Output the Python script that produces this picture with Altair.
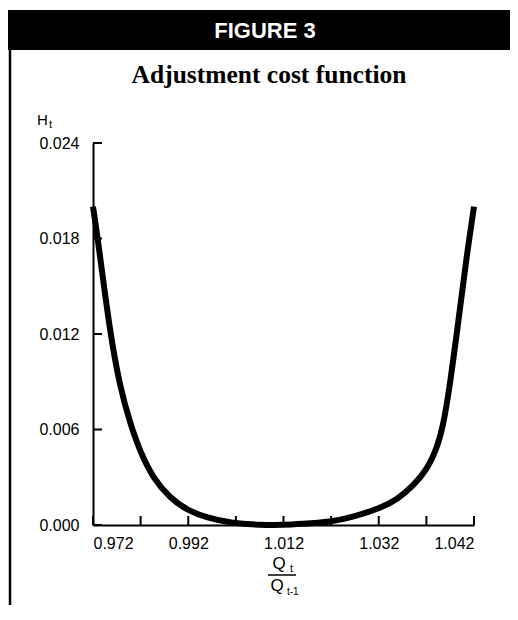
import altair as alt
import pandas as pd

# Curve (ratio Q_t/Q_{t-1}, H_t)
CURVE_X = [0.9720, 0.9731, 0.9756, 0.9777, 0.9798, 0.9819, 0.9846, 0.9882, 0.9917,
           0.9960, 1.0008, 1.0071, 1.0120, 1.0156, 1.0219, 1.0266, 1.0323, 1.0359,
           1.0392, 1.0422, 1.0443, 1.0455, 1.0468, 1.0481, 1.0495, 1.0506, 1.0520]
CURVE_Y = [0.0200, 0.0178, 0.0120, 0.00863, 0.00638, 0.0046, 0.00295, 0.00169, 0.00094,
           0.00044, 0.00013, 0.0, 0.0, 0.00006, 0.00019, 0.0005, 0.00106, 0.00160,
           0.00245, 0.00350, 0.00490, 0.00620, 0.00850, 0.01140, 0.01460, 0.01719, 0.0200]

X_TICKS = [0.972, 0.982, 0.992, 1.002, 1.012, 1.022, 1.032, 1.042, 1.052]
X_LABEL_VALUES = [0.972, 0.992, 1.012, 1.032, 1.052]
X_LABELS = ["0.972", "0.992", "1.012", "1.032", "1.042"]
Y_TICKS = [0.0, 0.006, 0.012, 0.018, 0.024]

HEADER = "FIGURE 3"
TITLE = "Adjustment cost function"

curve = pd.DataFrame({"x": CURVE_X, "y": CURVE_Y})
xt = pd.DataFrame({"x": X_TICKS})
yt = pd.DataFrame({"y": Y_TICKS})
one = pd.DataFrame({"a": [0]})

label_expr = "''"
for v, l in reversed(list(zip(X_LABEL_VALUES, X_LABELS))):
    label_expr = f"abs(datum.value - {v}) < 1e-6 ? '{l}' : ({label_expr})"

xscale = alt.Scale(domain=[0.972, 1.052], nice=False, zero=False)
yscale = alt.Scale(domain=[0, 0.024], nice=False)

SANS = "Liberation Sans"

line = alt.Chart(curve).mark_line(color="black", strokeWidth=6, interpolate="basis",
                                  strokeCap="butt").encode(
    x=alt.X("x:Q", scale=xscale, axis=alt.Axis(
        values=X_LABEL_VALUES, labelExpr=label_expr, ticks=False, tickSize=0, grid=False,
        domainColor="black", domainWidth=2, labelFont=SANS, labelFontSize=16,
        labelColor="black", labelPadding=10, title=None)),
    y=alt.Y("y:Q", scale=yscale, axis=alt.Axis(
        values=Y_TICKS, format=".3f", ticks=False, tickSize=0, grid=False,
        domainColor="black", domainWidth=2, labelFont=SANS, labelFontSize=16,
        labelColor="black", labelPadding=14, title=None)),
)

xticks = alt.Chart(xt).mark_rule(color="black", strokeWidth=2).encode(
    x=alt.X("x:Q", scale=xscale), y=alt.value(382), y2=alt.value(373))
yticks = alt.Chart(yt).mark_rule(color="black", strokeWidth=2).encode(
    y=alt.Y("y:Q", scale=yscale), x=alt.value(0), x2=alt.value(9))

band = alt.Chart(one).mark_rect(color="black").encode(
    x=alt.value(-86), x2=alt.value(425), y=alt.value(-133), y2=alt.value(-93))
border = alt.Chart(one).mark_rule(color="black", strokeWidth=2.5).encode(
    x=alt.value(-83), y=alt.value(-93), y2=alt.value(477))
bar = alt.Chart(one).mark_rule(color="black", strokeWidth=1.5).encode(
    x=alt.value(175), x2=alt.value(203), y=alt.value(432))


def txt(s, x, y, size, font=SANS, weight="normal", color="black", align="center"):
    return alt.Chart(one).mark_text(text=s, font=font, fontSize=size, fontWeight=weight,
                                    color=color, align=align, baseline="middle").encode(
        x=alt.value(x), y=alt.value(y))


texts = [
    txt(HEADER, 172, -112, 22, weight="bold", color="white"),
    txt(TITLE, 176, -68, 25.5, font="Liberation Serif", weight="bold"),
    txt("H", -56, -23, 15, align="left"),
    txt("t", -44, -18, 11, align="left"),
    txt("Q", 186, 421, 17),
    txt("t", 197, 426, 11, align="left"),
    txt("Q", 184, 443, 17),
    txt("t-1", 194, 449, 10, align="left"),
]

chart = alt.layer(band, border, bar, *texts, line, xticks, yticks).properties(
    width=381, height=382,
    background="white",
    autosize=alt.AutoSizeParams(type="none"),
    padding={"left": 85, "top": 135, "right": 36, "bottom": 80},
).configure_view(strokeWidth=0, stroke="transparent")

chart.save("out.html", embed_options={"renderer": "svg", "actions": False})
